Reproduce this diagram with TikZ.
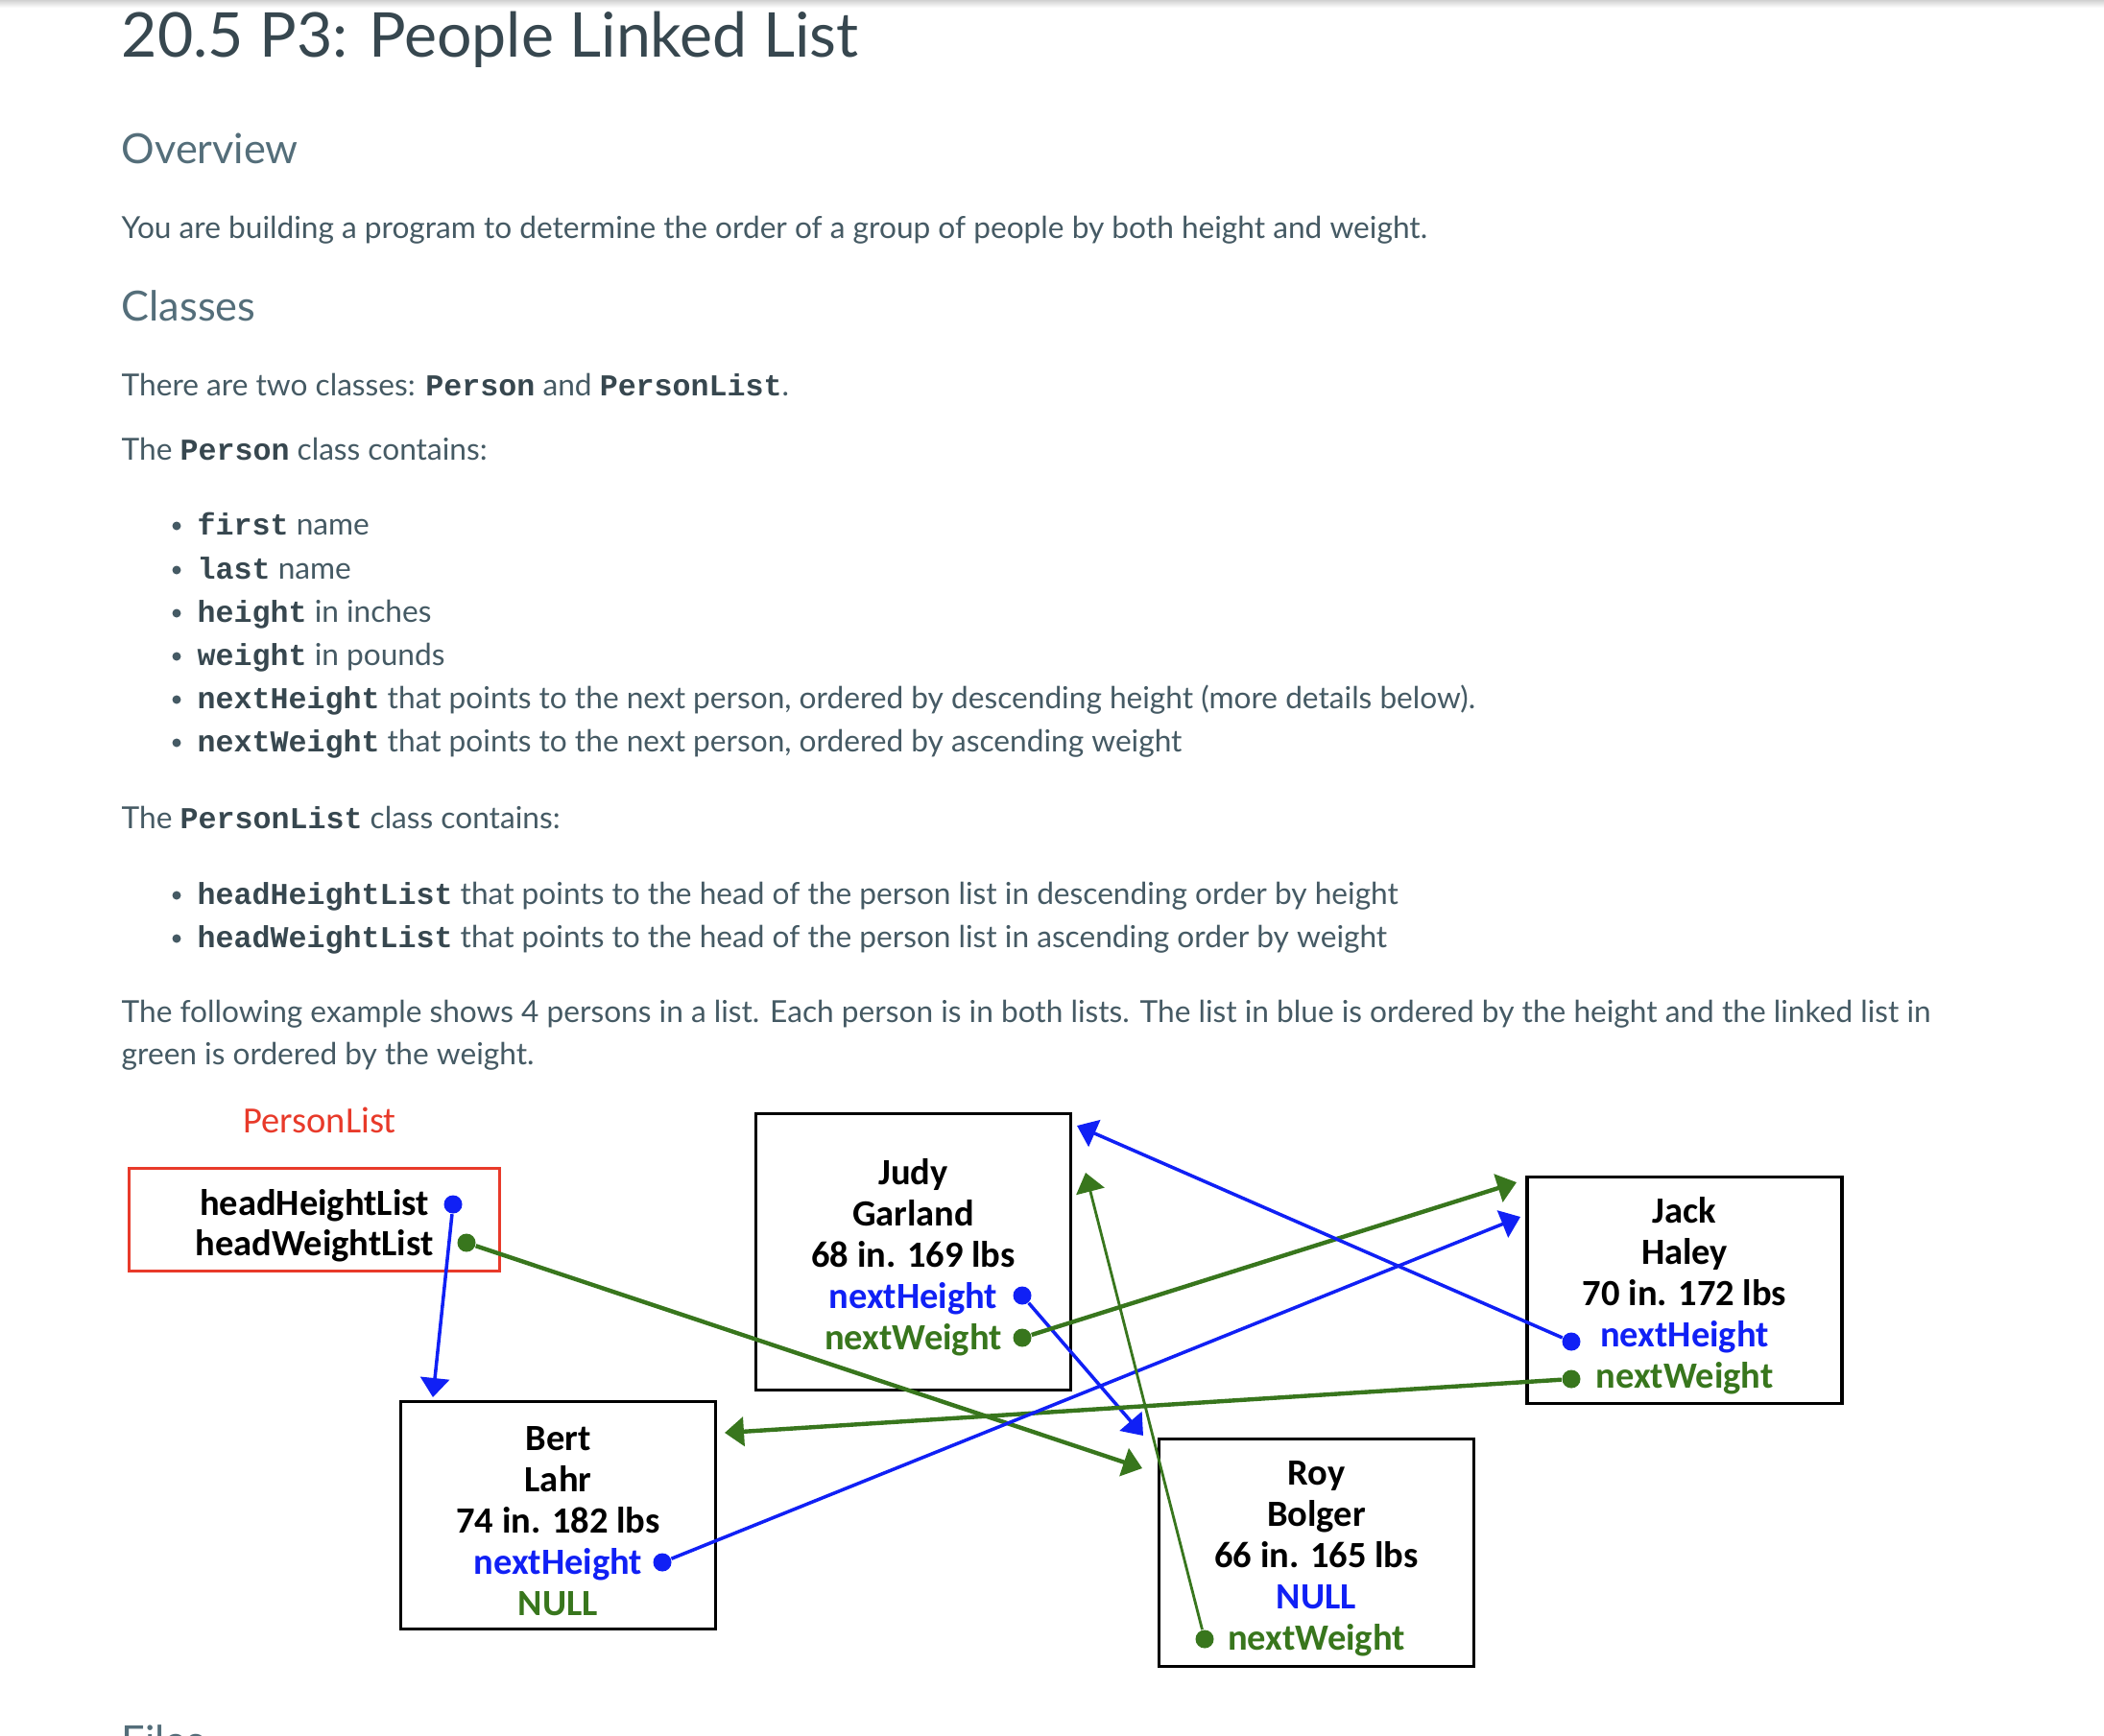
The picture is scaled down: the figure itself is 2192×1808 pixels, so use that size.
\documentclass[tikz,border=0pt]{standalone}
\usepackage{fontspec}
\setmainfont{Lato}
\setmonofont{Liberation Mono}
\newfontfamily\diagfont{Carlito}
\usetikzlibrary{arrows.meta}

\definecolor{titlegray}{HTML}{37474F}
\definecolor{headgray}{HTML}{546E7A}
\definecolor{bodygray}{HTML}{455A64}
\definecolor{hblue}{RGB}{16,32,245}
\definecolor{wgreen}{RGB}{56,118,29}
\definecolor{plred}{RGB}{232,58,42}

\newcommand{\codeword}[1]{{\color{titlegray}\ttfamily\bfseries\fontsize{9}{10}\selectfont #1}}

\tikzset{
  titletxt/.style={anchor=base west, inner sep=0, text=titlegray, font=\fontsize{18.3}{20}\selectfont},
  headtxt/.style={anchor=base west, inner sep=0, text=headgray, font=\fontsize{12.3}{14}\selectfont},
  txt/.style={anchor=base west, inner sep=0, text=bodygray, font=\fontsize{9}{10}\selectfont},
  person/.style={draw, line width=1pt, minimum width=3.28cm, inner sep=0},
  persontxt/.style={align=center, inner sep=0, yshift=-0.06cm,
    font=\diagfont\bfseries\fontsize{10.95}{12.23}\selectfont},
  plbox/.style={draw=plred, line width=0.9pt, minimum width=3.85cm, minimum height=1.07cm, inner sep=0},
  pltxt/.style={align=center, inner sep=0, yshift=-0.06cm,
    font=\diagfont\bfseries\fontsize{10.95}{11.95}\selectfont},
  hdot/.style={circle, fill=hblue, inner sep=0, minimum size=0.19cm},
  wdot/.style={circle, fill=wgreen, inner sep=0, minimum size=0.19cm},
  hptr/.style={hblue, line width=1pt, -{Triangle[length=0.2cm, width=0.3cm]}},
  wptr/.style={wgreen, line width=1.25pt, -{Triangle[length=0.2cm, width=0.3cm]}}
}

\begin{document}
\begin{tikzpicture}[x=0.01cm, y=-0.01cm]
\useasboundingbox (0,0) rectangle (2192,1808);
\clip (0,0) rectangle (2192,1808);
\fill[white] (0,0) rectangle (2192,1808);
\shade[top color=black!18, bottom color=white] (0,0) rectangle (2192,8);

% page text
\node[titletxt] (title) at (126,59) {20.5 P3: People Linked List};
\node[headtxt] (overview) at (126,170) {Overview};
\node[txt] (intro) at (126,248) {You are building a program to determine the order of a group of people by both height and weight.};
\node[headtxt] (classes) at (126,334) {Classes};
\node[txt] (twocls) at (126,412) {There are two classes: \codeword{Person} and \codeword{PersonList}.};
\node[txt] (personcls) at (126,479) {The \codeword{Person} class contains:};
\node[txt] (first) at (205,557) {\codeword{first} name};
\node[txt] (last) at (205,603) {\codeword{last} name};
\node[txt] (height) at (205,648) {\codeword{height} in inches};
\node[txt] (weight) at (205,693) {\codeword{weight} in pounds};
\node[txt] (nexth) at (205,738) {\codeword{nextHeight} that points to the next person, ordered by descending height (more details below).};
\node[txt] (nextw) at (205,783) {\codeword{nextWeight} that points to the next person, ordered by ascending weight};
\node[txt] (listcls) at (126,863) {The \codeword{PersonList} class contains:};
\node[txt] (headh) at (205,942) {\codeword{headHeightList} that points to the head of the person list in descending order by height};
\node[txt] (headw) at (205,987) {\codeword{headWeightList} that points to the head of the person list in ascending order by weight};
\node[txt] (example) at (126,1065) {The following example shows 4 persons in a list. Each person is in both lists. The list in blue is ordered by the height and the linked list in};
\node[txt] (example2) at (126,1109) {green is ordered by the weight.};
\node[headtxt] (files) at (126,1829) {Files};
\foreach \y in {557,603,648,693,738,783,942,987}
  \fill[bodygray] (184,\y-9) circle (4.5);

% the two lists
\node[anchor=base, inner sep=0, text=plred, font=\diagfont\fontsize{10.95}{12}\selectfont] (pllabel) at (333,1180) {PersonList};
\node[plbox] (plist) at (327.5,1271) {};
\node[pltxt] (plistTxt) at (plist) {headHeightList\\headWeightList};
\node[person, minimum height=2.88cm] (judy) at (951.5,1304.5) {};
\node[persontxt] (judyTxt) at (judy) {Judy\\Garland\\68 in. 169 lbs\\\textcolor{hblue}{nextHeight}\\\textcolor{wgreen}{nextWeight}};
\node[person, minimum height=2.37cm] (bert) at (581.5,1579) {};
\node[persontxt] (bertTxt) at (bert) {Bert\\Lahr\\74 in. 182 lbs\\\textcolor{hblue}{nextHeight}\\\textcolor{wgreen}{NULL}};
\node[person, minimum height=2.37cm] (roy) at (1371.5,1618) {};
\node[persontxt] (royTxt) at (roy) {Roy\\Bolger\\66 in. 165 lbs\\\textcolor{hblue}{NULL}\\\textcolor{wgreen}{nextWeight}};
\node[person, minimum height=2.36cm] (jack) at (1755,1344.5) {};
\node[persontxt] (jackTxt) at (jack) {Jack\\Haley\\70 in. 172 lbs\\\textcolor{hblue}{nextHeight}\\\textcolor{wgreen}{nextWeight}};

\node[hdot] (plH) at (472,1255) {};
\node[wdot] (plW) at (486,1295) {};
\node[hdot] (judyH) at (1065,1350) {};
\node[wdot] (judyW) at (1065,1394) {};
\node[hdot] (jackH) at (1637,1398) {};
\node[wdot] (jackW) at (1637,1437) {};
\node[hdot] (bertH) at (690,1628) {};
\node[wdot] (royW) at (1255,1708) {};

\coordinate (bertTop) at (451,1456);
\coordinate (royTopH) at (1191,1496);
\coordinate (royLeftW) at (1190,1530);
\coordinate (jackLeftW) at (1580,1232);
\coordinate (jackLeftH) at (1584,1268);
\coordinate (judyRightH) at (1122,1173);
\coordinate (judyRightW) at (1131,1222);
\coordinate (bertRight) at (755,1493);

\draw[hptr] (plH) -- (bertTop);
\draw[wptr] (plW) -- (royLeftW);
\draw[hptr] (judyH) -- (royTopH);
\draw[wptr] (judyW) -- (jackLeftW);
\draw[hptr] (jackH) -- (judyRightH);
\draw[wptr] (jackW) -- (bertRight);
\draw[hptr] (bertH) -- (jackLeftH);
\draw[wptr, line width=0.8pt] (royW) -- (judyRightW);
\end{tikzpicture}
\end{document}
